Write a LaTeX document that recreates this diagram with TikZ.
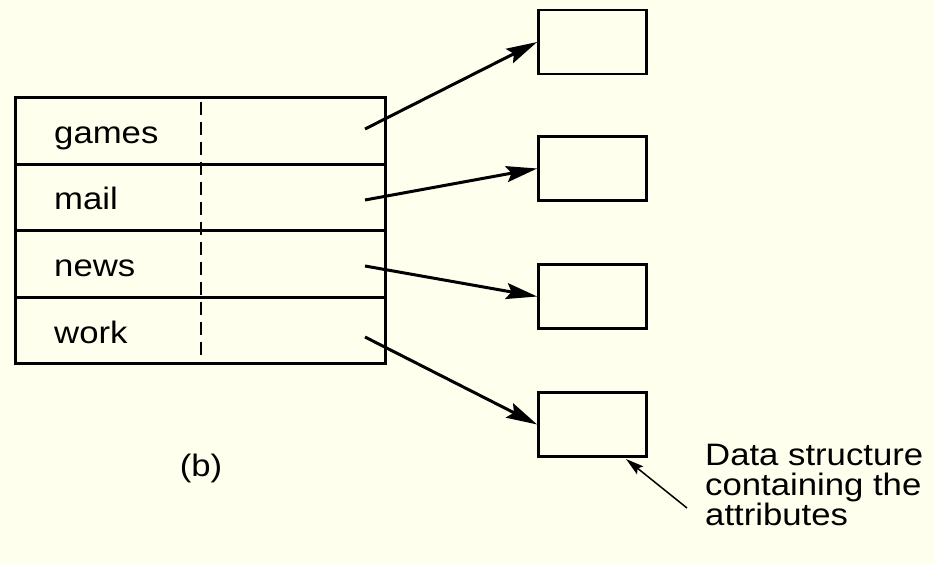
\documentclass[tikz,border=0pt]{standalone}
\usepackage{fontspec}
\setmainfont{Liberation Sans}[FakeStretch=1.12]
\usetikzlibrary{arrows.meta}
\definecolor{paper}{RGB}{255,255,238}

\begin{document}
\begin{tikzpicture}[x=1pt,y=-1pt,
  font=\fontsize{31pt}{30pt}\selectfont,
  row/.style={draw,line width=3.3pt,minimum width=370pt,minimum height=66.5pt,inner sep=0pt},
  attr/.style={draw,line width=2.7pt,minimum width=108pt,minimum height=64pt,inner sep=0pt},
  entry/.style={anchor=base west,inner sep=0pt},
  ptr/.style={line width=3pt,-{Stealth[length=31pt,width=16pt,inset=5pt]}},
  thin ptr/.style={line width=1.5pt,-{Stealth[length=18pt,width=10pt,inset=3pt]}}]
  \path[fill=paper,use as bounding box] (0,0) rectangle (935,564);

  \node[row] (r0) at (200.5,131){};
  \node[row] (r1) at (200.5,197.5){};
  \node[row] (r2) at (200.5,264){};
  \node[row] (r3) at (200.5,330.5){};

  \node[entry] (n0) at (54,144){games};
  \node[entry] (n1) at (54,210){mail};
  \node[entry] (n2) at (54,276.5){news};
  \node[entry] (n3) at (54,343){work};

  \draw[line width=2pt,dash pattern=on 13pt off 7pt] (201,102) -- (201,355);

  \node[attr] (b0) at (592.5,42){};
  \node[attr] (b1) at (592.5,168.5){};
  \node[attr] (b2) at (592.5,296.5){};
  \node[attr] (b3) at (592.5,424.5){};

  \coordinate (p0) at (365,129);
  \coordinate (p1) at (365,200);
  \coordinate (p2) at (365,266);
  \coordinate (p3) at (365,337);

  \draw[ptr] (p0) -- (b0.west);
  \draw[ptr] (p1) -- (b1.west);
  \draw[ptr] (p2) -- (b2.west);
  \draw[ptr] (p3) -- (b3.west);

  \node (lb) at (201,468){(b)};

  \node[anchor=west,align=left,inner sep=0pt] (note) at (705,485){Data structure\\containing the\\attributes};
  \coordinate (q) at (687,508);
  \coordinate (qt) at (626,459);
  \draw[thin ptr] (q) -- (qt);
\end{tikzpicture}
\end{document}
